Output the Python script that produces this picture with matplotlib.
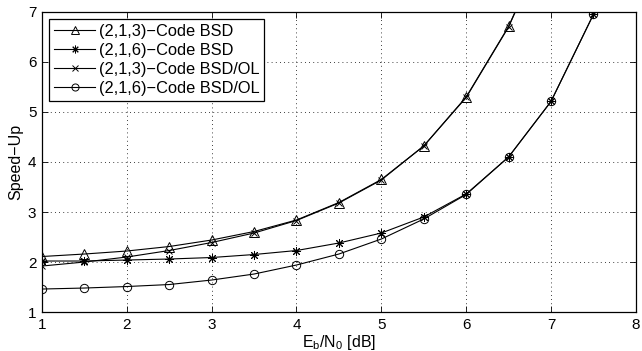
import matplotlib
matplotlib.use('Agg')
import matplotlib.pyplot as plt

plt.rcParams['font.family'] = ['Liberation Sans', 'DejaVu Sans']
plt.rcParams['mathtext.fontset'] = 'custom'
plt.rcParams['mathtext.rm'] = 'Liberation Sans'

# Eb/N0 in dB
snr = [1.0, 1.5, 2.0, 2.5, 3.0, 3.5, 4.0, 4.5, 5.0, 5.5, 6.0, 6.5, 7.0, 7.5, 8.0]

# speed-up values (points above 7 are clipped)
bsd_213 = [2.11, 2.16, 2.22, 2.31, 2.44, 2.61, 2.84, 3.19, 3.65, 4.32, 5.30,
           6.71, 8.60]
bsd_216 = [2.02, 2.02, 2.04, 2.06, 2.09, 2.15, 2.23, 2.38, 2.58, 2.90, 3.36,
           4.10, 5.21, 6.95, 9.20]
ol_213 = [1.92, 2.00, 2.10, 2.23, 2.39, 2.58, 2.83, 3.18, 3.64, 4.32, 5.29,
          6.70, 8.60]
ol_216 = [1.46, 1.48, 1.51, 1.55, 1.64, 1.76, 1.94, 2.16, 2.46, 2.86, 3.35,
          4.10, 5.21, 6.95, 9.20]

labels = ['(2,1,3)\u2212Code BSD', '(2,1,6)\u2212Code BSD',
          '(2,1,3)\u2212Code BSD/OL', '(2,1,6)\u2212Code BSD/OL']

fig = plt.figure(figsize=(6.42, 3.51), dpi=100)
ax = fig.add_axes([0.0654, 0.111, 0.925, 0.855])

style = dict(color='black', linewidth=0.8, markerfacecolor='none',
             markeredgecolor='black', markeredgewidth=0.7)
ax.plot(snr[:len(bsd_213)], bsd_213, marker='^', markersize=6.5,
        label=labels[0], **style)
ax.plot(snr[:len(bsd_216)], bsd_216, marker=(8, 2, 0), markersize=6.5,
        label=labels[1], **style)
ax.plot(snr[:len(ol_213)], ol_213, marker='x', markersize=4.5,
        label=labels[2], **style)
ax.plot(snr[:len(ol_216)], ol_216, marker='o', markersize=6,
        label=labels[3], **style)

ax.set_xlim(1, 8)
ax.set_ylim(1, 7)
ax.set_xticks(range(1, 9))
ax.set_yticks(range(1, 8))
ax.grid(True, linestyle=(0, (1, 4)), color='black', linewidth=0.6)
ax.tick_params(direction='in', top=True, right=True, labelsize=11,
               length=4, width=0.6, pad=4)
for sp in ax.spines.values():
    sp.set_linewidth(0.9)

ax.set_xlabel(r'E$_\mathregular{b}$/N$_\mathregular{0}$ [dB]', fontsize=11.5,
              labelpad=1)
ax.set_ylabel('Speed\u2212Up', fontsize=11.5, labelpad=3)

leg = ax.legend(loc='upper left', fontsize=11.8, fancybox=False,
                framealpha=1, edgecolor='black', borderpad=0.3,
                labelspacing=0.24, handlelength=2.5, handletextpad=0.2,
                borderaxespad=0.45, markerscale=0.85)
leg.get_frame().set_linewidth(0.9)

fig.savefig('out.png', dpi=100)
